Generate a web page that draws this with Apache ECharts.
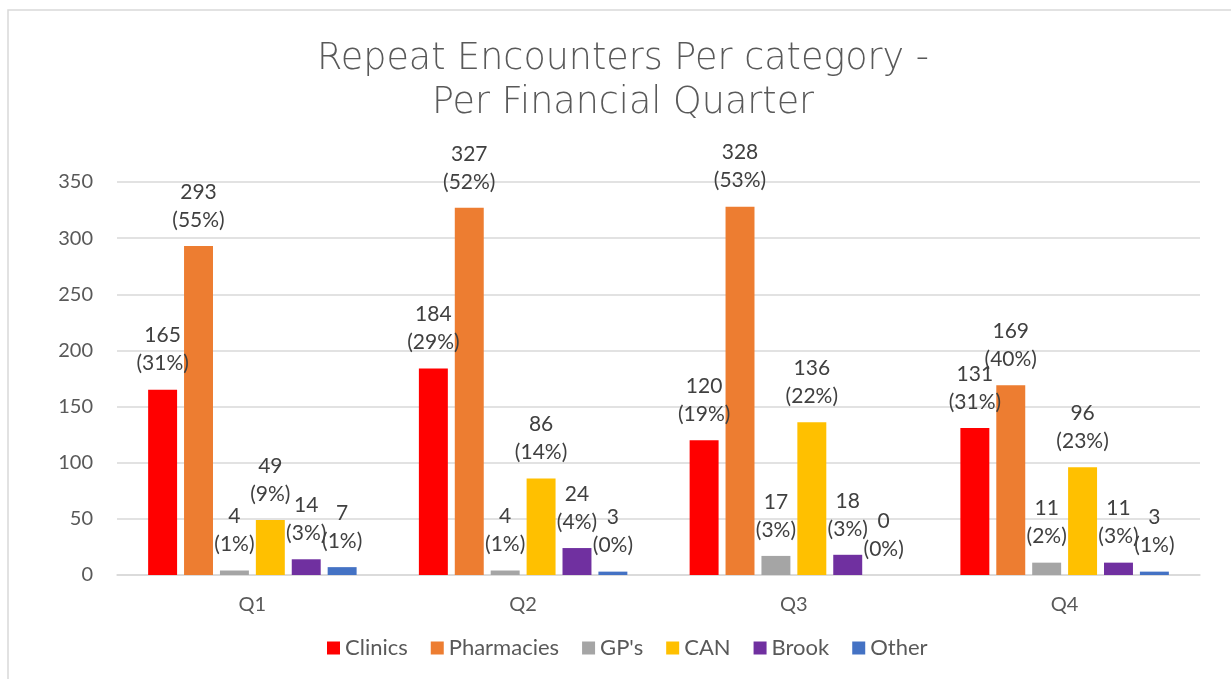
<!DOCTYPE html>
<html>
<head>
<meta charset="utf-8">
<script src="https://cdn.jsdelivr.net/npm/echarts@6/dist/echarts.min.js"></script>
<style>html,body{margin:0;padding:0;background:#fff;}#c{width:1231px;height:679px;}</style>
</head>
<body>
<div id="c"></div>
<script>
var titleText = 'Repeat Encounters Per category -\nPer Financial Quarter';
var categories = ['Q1', 'Q2', 'Q3', 'Q4'];
var seriesNames = ['Clinics', 'Pharmacies', "GP's", 'CAN', 'Brook', 'Other'];
var clinics = [165, 184, 120, 131];
var pharmacies = [293, 327, 328, 169];
var gps = [4, 4, 17, 11];
var can = [49, 86, 136, 96];
var brook = [14, 24, 18, 11];
var other = [7, 3, 0, 3];
var clinicsPct = [31, 29, 19, 31];
var pharmaciesPct = [55, 52, 53, 40];
var gpsPct = [1, 1, 3, 2];
var canPct = [9, 14, 22, 23];
var brookPct = [3, 4, 3, 3];
var otherPct = [1, 0, 0, 1];
var yTicks = [0, 50, 100, 150, 200, 250, 300, 350];
var colors = ['#FF0000', '#ED7D31', '#A5A5A5', '#FFC000', '#7030A0', '#4472C4'];

var values = [clinics, pharmacies, gps, can, brook, other];
var pcts = [clinicsPct, pharmaciesPct, gpsPct, canPct, brookPct, otherPct];

var chart = echarts.init(document.getElementById('c'));
var series = seriesNames.map(function (name, i) {
  return {
    name: name,
    type: 'bar',
    data: values[i],
    barGap: '24%',
    barCategoryGap: '23%',
    itemStyle: { color: colors[i] },
    label: {
      show: true,
      position: 'top',
      distance: 12,
      fontFamily: 'Lato',
      fontSize: 21,
      lineHeight: 28,
      color: '#404040',
      formatter: function (p) {
        return p.value + '\n(' + pcts[i][p.dataIndex] + '%)';
      }
    }
  };
});

chart.setOption({
  animation: false,
  backgroundColor: '#fff',
  color: colors,
  graphic: [{
    type: 'rect',
    shape: { x: 8, y: 10, width: 1240, height: 700 },
    style: { fill: 'none', stroke: '#d9d9d9', lineWidth: 1.5 },
    silent: true
  }, {
    type: 'text',
    x: 623,
    y: 38,
    silent: true,
    style: {
      text: titleText,
      align: 'center',
      verticalAlign: 'top',
      fontFamily: 'DejaVu Sans',
      fontWeight: 200,
      fontSize: 36.5,
      lineHeight: 44,
      fill: '#595959'
    }
  }],
  legend: {
    bottom: 15,
    left: 322,
    icon: 'rect',
    itemWidth: 13,
    itemHeight: 13,
    itemGap: 23,
    textStyle: { fontFamily: 'Lato', fontSize: 22, color: '#595959' },
    data: seriesNames
  },
  grid: { left: 117, right: 31, top: 182, bottom: 104, containLabel: false },
  xAxis: {
    type: 'category',
    data: categories,
    axisTick: { show: false },
    axisLine: { lineStyle: { color: '#d9d9d9', width: 1.5 } },
    axisLabel: { fontFamily: 'Lato', fontSize: 20, color: '#595959', margin: 20 }
  },
  yAxis: {
    type: 'value',
    min: yTicks[0],
    max: yTicks[yTicks.length - 1],
    interval: 50,
    axisLine: { show: false },
    axisTick: { show: false },
    splitLine: { lineStyle: { color: '#d9d9d9', width: 1.5 } },
    axisLabel: { fontFamily: 'Lato', fontSize: 20, color: '#595959', margin: 24 }
  },
  series: series
});
</script>
</body>
</html>
